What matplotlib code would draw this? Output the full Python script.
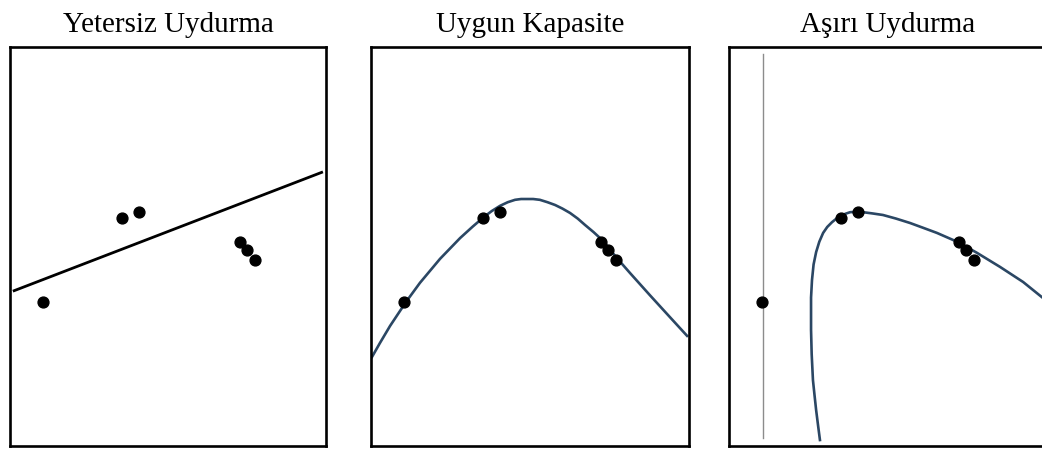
"""Three-panel under/good/over-fitting sketch (Turkish labels)."""
import matplotlib
matplotlib.use("Agg")
import matplotlib.pyplot as plt

plt.rcParams["font.family"] = ["Liberation Serif", "DejaVu Serif"]

TITLES = ["Yetersiz Uydurma", "Uygun Kapasite", "Aşırı Uydurma"]

# observed points (same in every panel)
point_x = [1.04, 3.52, 4.06, 7.23, 7.45, 7.70]
point_y = [3.61, 5.71, 5.86, 5.11, 4.91, 4.66]

# underfit: straight line
line_x = [0.09, 9.84]
line_y = [3.88, 6.87]

# good fit: smooth hump
good_x = [0.03, 0.28, 0.60, 1.10, 1.54, 2.17, 2.80, 3.20, 3.55, 3.80, 4.06,
          4.30, 4.53, 4.72, 4.91, 5.10, 5.31, 5.55, 5.79, 6.02, 6.26, 6.50,
          6.73, 7.00, 7.30, 7.70, 8.14, 8.77, 9.40, 9.94]
good_y = [2.23, 2.58, 3.01, 3.61, 4.09, 4.69, 5.21, 5.50, 5.74, 5.89, 6.02,
          6.11, 6.17, 6.19, 6.19, 6.19, 6.17, 6.11, 6.04, 5.95, 5.84, 5.70,
          5.54, 5.36, 5.14, 4.74, 4.34, 3.78, 3.23, 2.76]

# overfit: curve shooting down plus vertical asymptote
over_x = [2.86, 2.80, 2.74, 2.69, 2.64, 2.60, 2.58, 2.58, 2.58, 2.61, 2.66,
          2.74, 2.84, 2.96, 3.09, 3.24, 3.38, 3.52, 3.66, 3.81, 4.01, 4.21,
          4.50, 4.84, 5.25, 5.69, 6.10, 6.54, 7.20, 7.80, 8.52, 9.25, 9.84,
          10.0]
over_y = [0.15, 0.52, 0.90, 1.27, 1.65, 2.30, 2.91, 3.33, 3.72, 4.16, 4.55,
          4.86, 5.12, 5.34, 5.49, 5.61, 5.70, 5.76, 5.82, 5.86, 5.87, 5.86,
          5.83, 5.79, 5.70, 5.59, 5.47, 5.34, 5.11, 4.84, 4.49, 4.11, 3.73,
          3.63]
asym_x = [1.07, 1.07]
asym_y = [0.20, 9.82]

CURVE = "#2b4764"

W, H = 1042, 450
fig = plt.figure(figsize=(W / 100, H / 100), dpi=100)
lefts = [10, 371, 729]
widths = [316, 318, 318]
axes = []
for left, width, title in zip(lefts, widths, TITLES):
    ax = fig.add_axes([left / W, 4 / H, width / W, 399 / H])
    ax.set_xlim(0, 10 * width / 318)
    ax.set_ylim(0, 10)
    ax.set_xticks([]); ax.set_yticks([])
    for sp in ax.spines.values():
        sp.set_linewidth(1.9)
        sp.set_color("black")
    ax.set_title(title, fontsize=21, pad=10.5)
    axes.append(ax)

ax1, ax2, ax3 = axes
ax1.plot(line_x, line_y, color="black", lw=2.0, solid_capstyle="butt")
ax2.plot(good_x, good_y, color=CURVE, lw=1.9)
ax3.plot(asym_x, asym_y, color="#8c8c8c", lw=1.0)
ax3.plot(over_x, over_y, color=CURVE, lw=1.9)
for ax in axes:
    ax.plot(point_x, point_y, "o", color="black", ms=7.8, zorder=3)

fig.savefig("out.png", dpi=100)
